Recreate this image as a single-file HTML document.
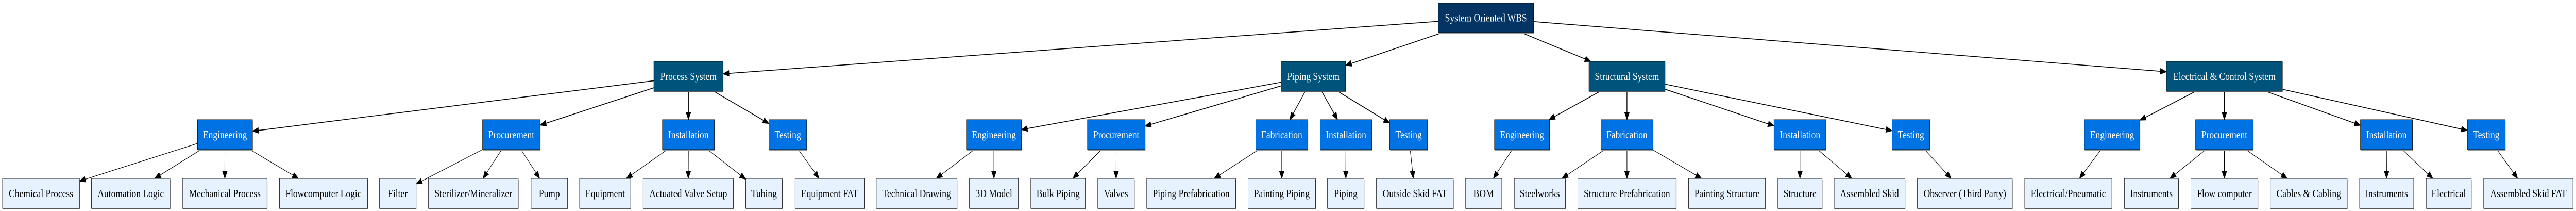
<!DOCTYPE html>
<html><head><meta charset="utf-8">
<style>
html,body{margin:0;padding:0;background:#fff;width:100%;height:100%;overflow:hidden;}
svg{display:block;position:fixed;left:0;top:0;width:100vw;height:100vh;}
text{font-family:"Liberation Serif","DejaVu Serif",serif;font-size:21px;}
</style></head>
<body>
<svg id="s" xmlns="http://www.w3.org/2000/svg" viewBox="0 0 6000 409" preserveAspectRatio="none"></svg>
<script>
var Y=[[6,63],[119,177],[232,290],[346,404]];
var FILL=["#033463","#00537b","#0073e4","#e6f2ff"];
var N={};
function n(id,x1,x2,l,label){N[id]={x1:x1,x2:x2,l:l,label:label};}
n('root',3350,3572,0,'System Oriented WBS');
n('P',1523,1684,1,'Process System');
n('Pi',2984,3134,1,'Piping System');
n('S',3701,3878,1,'Structural System');
n('E',5046,5316,1,'Electrical & Control System');
n('P1',460,588,2,'Engineering');n('P2',1124,1258,2,'Procurement');n('P3',1543,1664,2,'Installation');n('P4',1791,1879,2,'Testing');
n('Pi1',2251,2379,2,'Engineering');n('Pi2',2533,2667,2,'Procurement');n('Pi3',2925,3046,2,'Fabrication');n('Pi4',3075,3195,2,'Installation');n('Pi5',3237,3325,2,'Testing');
n('S1',3481,3609,2,'Engineering');n('S2',3729,3850,2,'Fabrication');n('S3',4132,4253,2,'Installation');n('S4',4407,4495,2,'Testing');
n('E1',4855,4984,2,'Engineering');n('E2',5114,5248,2,'Procurement');n('E3',5498,5619,2,'Installation');n('E4',5747,5835,2,'Testing');
var leaves=[
['P1',6,185,'Chemical Process'],['P1',213,396,'Automation Logic'],['P1',425,622,'Mechanical Process'],['P1',651,856,'Flowcomputer Logic'],
['P2',884,969,'Filter'],['P2',998,1207,'Sterilizer/Mineralizer'],['P2',1237,1322,'Pump'],
['P3',1350,1469,'Equipment'],['P3',1498,1708,'Actuated Valve Setup'],['P3',1737,1822,'Tubing'],
['P4',1852,2013,'Equipment FAT'],
['Pi1',2041,2229,'Technical Drawing'],['Pi1',2258,2372,'3D Model'],
['Pi2',2401,2528,'Bulk Piping'],['Pi2',2557,2642,'Valves'],
['Pi3',2671,2878,'Piping Prefabrication'],['Pi3',2907,3064,'Painting Piping'],
['Pi4',3092,3177,'Piping'],['Pi5',3206,3385,'Outside Skid FAT'],
['S1',3413,3498,'BOM'],['S2',3527,3646,'Steelworks'],['S2',3675,3904,'Structure Prefabrication'],['S2',3933,4112,'Painting Structure'],
['S3',4141,4244,'Structure'],['S3',4272,4437,'Assembled Skid'],['S4',4466,4687,'Observer (Third Party)'],
['E1',4716,4919,'Electrical/Pneumatic'],['E2',4948,5074,'Instruments'],['E2',5103,5259,'Flow computer'],['E2',5288,5467,'Cables & Cabling'],
['E3',5496,5622,'Instruments'],['E3',5651,5756,'Electrical'],['E4',5785,5993,'Assembled Skid FAT']];
var edges=[['root','P'],['root','Pi'],['root','S'],['root','E']];
['P1','P2','P3','P4'].forEach(function(c){edges.push(['P',c]);});
['Pi1','Pi2','Pi3','Pi4','Pi5'].forEach(function(c){edges.push(['Pi',c]);});
['S1','S2','S3','S4'].forEach(function(c){edges.push(['S',c]);});
['E1','E2','E3','E4'].forEach(function(c){edges.push(['E',c]);});
leaves.forEach(function(a,i){var id='L'+i;n(id,a[1],a[2],3,a[3]);edges.push([a[0],id]);});
var s=document.getElementById('s');var h='';
function box(b){var y=Y[b.l];return {x1:b.x1,x2:b.x2,y1:y[0],y2:y[1],cx:(b.x1+b.x2)/2,cy:(y[0]+y[1])/2};}
function clip(B,dx,dy){
 var hw=(B.x2-B.x1)/2,hh=(B.y2-B.y1)/2;var t=Math.min(dx?hw/Math.abs(dx):1e9,dy?hh/Math.abs(dy):1e9);return [B.cx+dx*t,B.cy+dy*t];}
edges.forEach(function(e){
 var A=box(N[e[0]]),B=box(N[e[1]]);var dx=B.cx-A.cx,dy=B.cy-A.cy;
 var p=clip(A,dx,dy),q=clip(B,-dx,-dy);
 var L=Math.hypot(q[0]-p[0],q[1]-p[1]);var ux=(q[0]-p[0])/L,uy=(q[1]-p[1])/L;
 var al=14,aw=5.5;var bx=q[0]-ux*al,by=q[1]-uy*al;
 var w=N[e[1]].l<3?1.6:1.2;
 h+='<line x1="'+p[0]+'" y1="'+p[1]+'" x2="'+bx+'" y2="'+by+'" stroke="#000" stroke-width="'+w+'"/>';
 h+='<polygon points="'+q[0]+','+q[1]+' '+(bx-uy*aw)+','+(by+ux*aw)+' '+(bx+uy*aw)+','+(by-ux*aw)+'" fill="#000" stroke="#000" stroke-width="1"/>';
});
for(var k in N){var b=N[k],B=box(b);
 h+='<rect x="'+(B.x1+1)+'" y="'+(B.y1+2)+'" width="'+(B.x2-B.x1)+'" height="'+(B.y2-B.y1)+'" fill="#9a9a9a"/>';
 h+='<rect x="'+B.x1+'" y="'+B.y1+'" width="'+(B.x2-B.x1)+'" height="'+(B.y2-B.y1)+'" fill="'+FILL[b.l]+'" stroke="#111" stroke-width="1"/>';
 var lbl=b.label.replace(/&/g,'&amp;');
 h+='<text x="'+B.cx+'" y="'+(B.cy+7)+'" text-anchor="middle" fill="'+(b.l<3?'#fff':'#000')+'">'+lbl+'</text>';
}
s.innerHTML=h;
</script>
</body></html>
